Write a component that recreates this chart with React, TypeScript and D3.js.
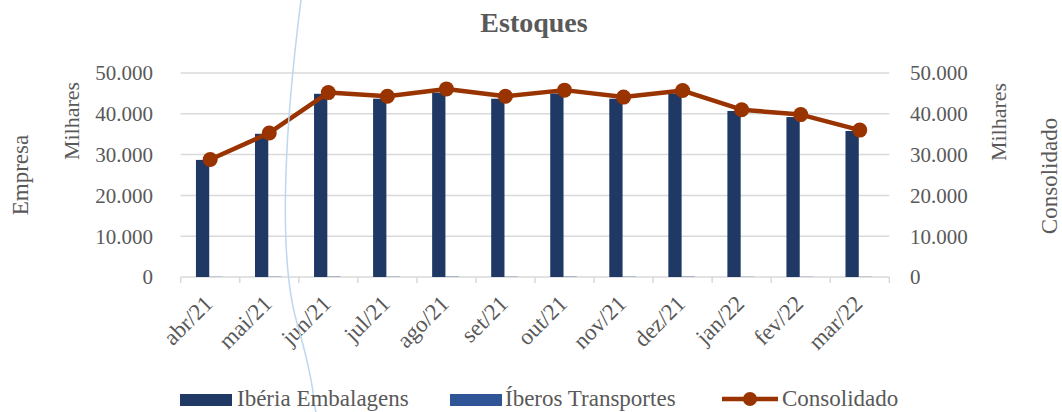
import React from "react";
import * as d3 from "d3";

const months = ["abr/21","mai/21","jun/21","jul/21","ago/21","set/21","out/21","nov/21","dez/21","jan/22","fev/22","mar/22"];
const iberia = [28700, 35100, 44900, 43700, 45200, 43700, 45000, 43700, 45000, 40700, 39200, 35800];
const iberos = [40, 60, 80, 60, 80, 60, 80, 60, 80, 40, 40, 40];
const consolidado = [28800, 35300, 45200, 44300, 46100, 44300, 45800, 44100, 45700, 41000, 39800, 36000];
const yTicks = [0, 10000, 20000, 30000, 40000, 50000];

const W = 1062, H = 412;
const FONT = "'Liberation Serif', 'Times New Roman', serif";
const TXT = "#595959";
const GRID = "#D9D9D9";
const C_IBERIA = "#203864";
const C_IBEROS = "#2F5597";
const C_LINE = "#993300";

const fmt = (v: number) => d3.format(",")(v).replace(/,/g, ".");

export default function App() {
  const x = d3.scaleBand<string>().domain(months).range([180.7, 889.3]).paddingInner(0).paddingOuter(0);
  const y = d3.scaleLinear().domain([0, 50000]).range([277, 73]);
  const bw = x.bandwidth();
  const barW = bw * 0.225;
  const series = d3.scaleBand<string>().domain(["iberia", "iberos"]).range([-barW - 1, barW - 1]);
  const cx = (m: string) => (x(m) as number) + bw / 2;
  const line = d3.line<number>().x((_, i) => cx(months[i])).y((d) => y(d));

  return (
    <svg width={W} height={H} style={{ position: "absolute", left: 0, top: 0, background: "#fff" }} fontFamily={FONT}>
      <text x={534} y={32} textAnchor="middle" fontSize={28} fontWeight="bold" fill={TXT}>Estoques</text>
      {yTicks.slice(1).map((t) => (
        <line key={t} x1={180.7} x2={889.3} y1={y(t)} y2={y(t)} stroke={GRID} strokeWidth={1.5} />
      ))}
      <line x1={180.7} x2={889.3} y1={y(0)} y2={y(0)} stroke={GRID} strokeWidth={1.5} />
      {d3.range(months.length + 1).map((i) => {
        const xx = 180.7 + i * bw;
        return <line key={i} x1={xx} x2={xx} y1={y(0)} y2={y(0) + 6} stroke={GRID} strokeWidth={1.5} />;
      })}
      {yTicks.map((t) => (
        <g key={t}>
          <text x={153} y={y(t)} dy="0.35em" textAnchor="end" fontSize={21} fill={TXT}>{fmt(t)}</text>
          <text x={910} y={y(t)} dy="0.35em" textAnchor="start" fontSize={21} fill={TXT}>{fmt(t)}</text>
        </g>
      ))}
      <text transform="translate(28,175) rotate(-90)" textAnchor="middle" fontSize={23} fill={TXT}>Empresa</text>
      <text transform="translate(79,121) rotate(-90)" textAnchor="middle" fontSize={22} fill={TXT}>Milhares</text>
      <text transform="translate(1006,122) rotate(-90)" textAnchor="middle" fontSize={22} fill={TXT}>Milhares</text>
      <text transform="translate(1057,176) rotate(-90)" textAnchor="middle" fontSize={23} fill={TXT}>Consolidado</text>
      {months.map((m, i) => (
        <g key={m}>
          <rect x={cx(m) + (series("iberia") as number)} y={y(iberia[i])} width={series.bandwidth()} height={y(0) - y(iberia[i])} fill={C_IBERIA} />
          <rect x={cx(m) + (series("iberos") as number)} y={y(iberos[i])} width={series.bandwidth()} height={y(0) - y(iberos[i])} fill={C_IBEROS} />
        </g>
      ))}
      <path d={line(consolidado) as string} fill="none" stroke={C_LINE} strokeWidth={4.5} strokeLinejoin="round" />
      {consolidado.map((v, i) => (
        <circle key={i} cx={cx(months[i])} cy={y(v)} r={7.5} fill={C_LINE} />
      ))}
      {months.map((m) => (
        <text key={m} transform={`translate(${cx(m) + 4},${305}) rotate(-45)`} textAnchor="end" fontSize={23} fill={TXT}>{m}</text>
      ))}
      <path d="M301,0 C287,110 276,250 297,323 S312,400 316,412" fill="none" stroke="#BDD7EE" strokeWidth={1.5} />
      <rect x={180} y={394} width={52} height={12} fill={C_IBERIA} />
      <text x={237} y={406} fontSize={23} fill={TXT}>Ibéria Embalagens</text>
      <rect x={450} y={394} width={52} height={12} fill={C_IBEROS} />
      <text x={505} y={406} fontSize={23} fill={TXT}>Íberos Transportes</text>
      <line x1={722} x2={778} y1={399} y2={399} stroke={C_LINE} strokeWidth={4.5} />
      <circle cx={750} cy={399} r={7} fill={C_LINE} />
      <text x={782} y={406} fontSize={23} fill={TXT}>Consolidado</text>
    </svg>
  );
}
